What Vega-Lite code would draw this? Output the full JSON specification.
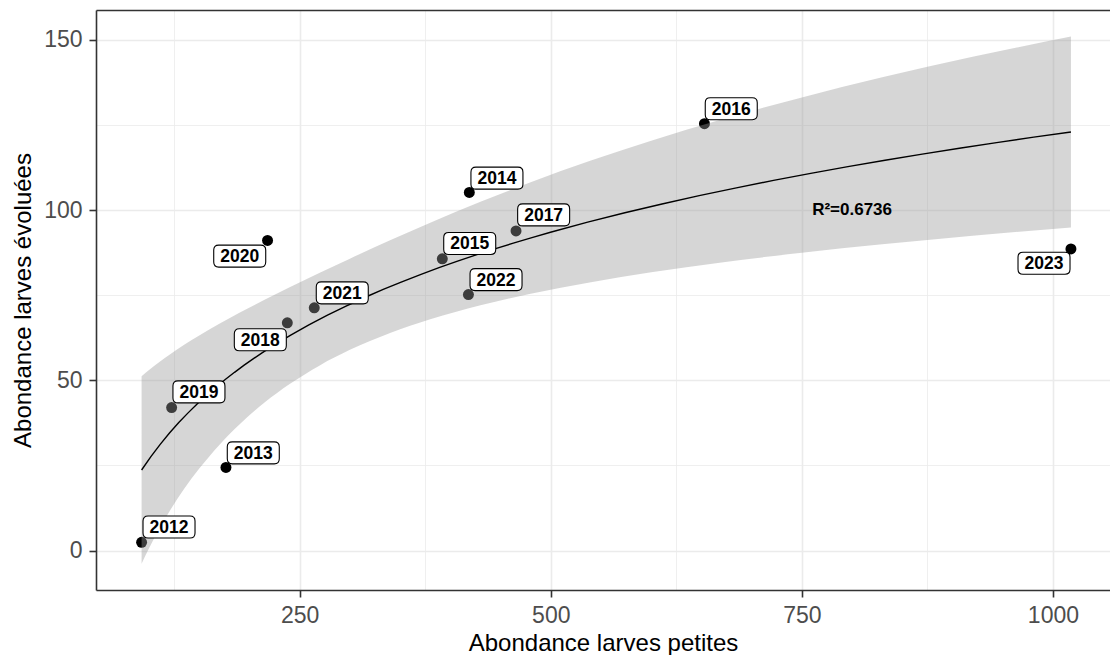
{
  "$schema": "https://vega.github.io/schema/vega-lite/v6.json",
  "width": 1014,
  "height": 580,
  "autosize": {"type": "none"},
  "padding": {"left": 96, "top": 10, "right": 0, "bottom": 65},
  "background": "white",
  "datasets": {
    "larves": [
      {"annee": "2012", "petites": 92.6, "evoluees": 2.4, "label_x": 119.9, "label_y": 6.9},
      {"annee": "2013", "petites": 176.6, "evoluees": 24.4, "label_x": 203.8, "label_y": 28.7},
      {"annee": "2014", "petites": 418.9, "evoluees": 105.2, "label_x": 446.4, "label_y": 109.4},
      {"annee": "2015", "petites": 392.0, "evoluees": 85.7, "label_x": 419.3, "label_y": 90.2},
      {"annee": "2016", "petites": 653.0, "evoluees": 125.4, "label_x": 679.7, "label_y": 129.8},
      {"annee": "2017", "petites": 465.4, "evoluees": 93.9, "label_x": 492.9, "label_y": 98.6},
      {"annee": "2018", "petites": 237.7, "evoluees": 66.9, "label_x": 210.8, "label_y": 61.9},
      {"annee": "2019", "petites": 122.5, "evoluees": 42.0, "label_x": 149.7, "label_y": 46.6},
      {"annee": "2020", "petites": 218.0, "evoluees": 91.1, "label_x": 190.3, "label_y": 86.5},
      {"annee": "2021", "petites": 264.5, "evoluees": 71.3, "label_x": 292.4, "label_y": 75.7},
      {"annee": "2022", "petites": 418.0, "evoluees": 75.2, "label_x": 445.5, "label_y": 79.6},
      {"annee": "2023", "petites": 1017.9, "evoluees": 88.6, "label_x": 991.1, "label_y": 84.4}
    ],
    "intervalle": [
      {"x": 92.6, "lo": -3.86, "hi": 51.18},
      {"x": 100, "lo": 0.68, "hi": 53.02},
      {"x": 110, "lo": 6.26, "hi": 55.32},
      {"x": 120, "lo": 11.33, "hi": 57.47},
      {"x": 135, "lo": 18.12, "hi": 60.44},
      {"x": 150, "lo": 24.08, "hi": 63.2},
      {"x": 170, "lo": 31.03, "hi": 66.61},
      {"x": 190, "lo": 37.04, "hi": 69.82},
      {"x": 215, "lo": 43.46, "hi": 73.64},
      {"x": 240, "lo": 48.91, "hi": 77.31},
      {"x": 270, "lo": 54.39, "hi": 81.59},
      {"x": 300, "lo": 58.95, "hi": 85.75},
      {"x": 340, "lo": 63.92, "hi": 91.14},
      {"x": 380, "lo": 67.95, "hi": 96.33},
      {"x": 430, "lo": 72.07, "hi": 102.45},
      {"x": 480, "lo": 75.45, "hi": 108.19},
      {"x": 540, "lo": 78.85, "hi": 114.55},
      {"x": 600, "lo": 81.73, "hi": 120.39},
      {"x": 670, "lo": 84.63, "hi": 126.63},
      {"x": 750, "lo": 87.49, "hi": 133.11},
      {"x": 830, "lo": 89.99, "hi": 139.01},
      {"x": 920, "lo": 92.49, "hi": 145.05},
      {"x": 1017.9, "lo": 94.88, "hi": 151.02}
    ],
    "annotation": [
      {"x": 800, "y": 100, "texte": "R²=0.6736"}
    ]
  },
  "resolve": {"axis": {"x": "independent", "y": "independent"}},
  "layer": [
    {
      "data": {"name": "larves"},
      "mark": {"type": "circle", "color": "black", "opacity": 1, "size": 120},
      "encoding": {
        "x": {
          "field": "petites", "type": "quantitative",
          "scale": {"domain": [47.2, 1056.8], "nice": false, "zero": false},
          "axis": {
            "orient": "bottom", "title": "Abondance larves petites", "format": "d",
            "values": [250, 500, 750, 1000], "grid": true, "gridColor": "#ebebeb", "gridWidth": 1.6,
            "domain": true, "domainColor": "#333333", "domainWidth": 1.6,
            "ticks": true, "tickColor": "#333333", "tickWidth": 1.6, "tickSize": 7,
            "labelFont": "Liberation Sans", "labelFontSize": 23, "labelColor": "#4d4d4d", "labelPadding": 7,
            "labelFlush": false, "labelOverlap": false,
            "titleFont": "Liberation Sans", "titleFontSize": 24, "titleFontWeight": "normal", "titleColor": "black", "titlePadding": 4
          }
        },
        "y": {
          "field": "evoluees", "type": "quantitative",
          "scale": {"domain": [-11.6, 158.8], "nice": false, "zero": false},
          "axis": {
            "orient": "left", "title": "Abondance larves évoluées", "format": "d",
            "values": [0, 50, 100, 150], "grid": true, "gridColor": "#ebebeb", "gridWidth": 1.6,
            "domain": true, "domainColor": "#333333", "domainWidth": 1.6,
            "ticks": true, "tickColor": "#333333", "tickWidth": 1.6, "tickSize": 7,
            "labelFont": "Liberation Sans", "labelFontSize": 23, "labelColor": "#4d4d4d", "labelPadding": 7,
            "labelFlush": false, "labelOverlap": false,
            "titleFont": "Liberation Sans", "titleFontSize": 24, "titleFontWeight": "normal", "titleColor": "black", "titlePadding": 8
          }
        }
      }
    },
    {
      "data": {"name": "intervalle"},
      "mark": {"type": "area", "fill": "#999999", "fillOpacity": 0.4, "interpolate": "monotone"},
      "encoding": {
        "x": {
          "field": "x", "type": "quantitative",
          "axis": {
            "orient": "top", "title": null, "values": [125, 375, 625, 875],
            "grid": true, "gridColor": "#ebebeb", "gridWidth": 0.8,
            "labels": false, "ticks": false,
            "domain": true, "domainColor": "#333333", "domainWidth": 1.6
          }
        },
        "y": {
          "field": "lo", "type": "quantitative",
          "axis": {
            "orient": "right", "title": null, "values": [25, 75, 125],
            "grid": true, "gridColor": "#ebebeb", "gridWidth": 0.8,
            "labels": false, "ticks": false, "domain": false
          }
        },
        "y2": {"field": "hi"}
      }
    },
    {
      "data": {"name": "larves"},
      "transform": [
        {"regression": "evoluees", "on": "petites", "method": "log"}
      ],
      "mark": {"type": "line", "color": "black", "strokeWidth": 1.4},
      "encoding": {
        "x": {"field": "petites", "type": "quantitative", "axis": null},
        "y": {"field": "evoluees", "type": "quantitative", "axis": null}
      }
    },
    {
      "data": {"name": "larves"},
      "mark": {
        "type": "point",
        "shape": "M-2.1,-1.1L2.1,-1.1Q2.6,-1.1,2.6,-0.6L2.6,0.6Q2.6,1.1,2.1,1.1L-2.1,1.1Q-2.6,1.1,-2.6,0.6L-2.6,-0.6Q-2.6,-1.1,-2.1,-1.1Z",
        "size": 400, "filled": true, "fill": "white", "fillOpacity": 1,
        "stroke": "black", "strokeWidth": 1.1, "opacity": 1
      },
      "encoding": {
        "x": {"field": "label_x", "type": "quantitative", "axis": null},
        "y": {"field": "label_y", "type": "quantitative", "axis": null}
      }
    },
    {
      "data": {"name": "larves"},
      "mark": {
        "type": "text", "font": "Liberation Sans", "fontWeight": "bold", "fontSize": 17.5,
        "color": "black", "align": "center", "baseline": "middle", "dy": 1
      },
      "encoding": {
        "x": {"field": "label_x", "type": "quantitative", "axis": null},
        "y": {"field": "label_y", "type": "quantitative", "axis": null},
        "text": {"field": "annee"}
      }
    },
    {
      "data": {"name": "annotation"},
      "mark": {
        "type": "text", "font": "Liberation Sans", "fontWeight": "bold", "fontSize": 17,
        "color": "black", "align": "center", "baseline": "middle"
      },
      "encoding": {
        "x": {"field": "x", "type": "quantitative", "axis": null},
        "y": {"field": "y", "type": "quantitative", "axis": null},
        "text": {"field": "texte"}
      }
    }
  ],
  "config": {
    "view": {"stroke": null}
  }
}
